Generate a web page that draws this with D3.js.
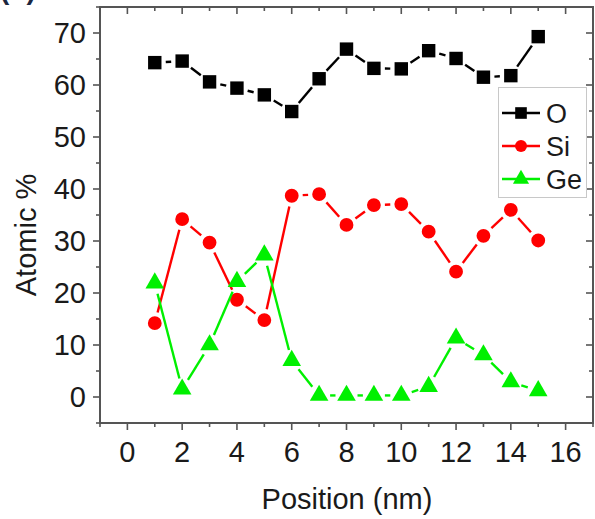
<!DOCTYPE html>
<html>
<head>
<meta charset="utf-8">
<script src="https://cdn.jsdelivr.net/npm/d3@7"></script>
<style>
  body { margin: 0; background: #fff; }
  text { font-family: "Liberation Sans", Arial, sans-serif; fill: #1a1a1a; }
</style>
</head>
<body>
<div id="chart"></div>
<script>
// Data: position (nm) vs atomic %
const positions = [1, 2, 3, 4, 5, 6, 7, 8, 9, 10, 11, 12, 13, 14, 15];
const oxygen = [64.3, 64.6, 60.6, 59.4, 58.1, 54.9, 61.2, 66.9, 63.2, 63.1, 66.6, 65.1, 61.5, 61.8, 69.3];
const silicon = [14.2, 34.2, 29.7, 18.7, 14.8, 38.7, 39.0, 33.1, 36.9, 37.1, 31.8, 24.1, 31.0, 36.0, 30.1];
const germanium = [21.9, 1.5, 10.0, 22.2, 27.3, 7.0, 0.3, 0.3, 0.3, 0.3, 2.0, 11.3, 8.1, 2.9, 1.2];

const xTicks = [0, 2, 4, 6, 8, 10, 12, 14, 16];
const yTicks = [0, 10, 20, 30, 40, 50, 60, 70];

const series = [
  { name: "O", values: oxygen, color: "#000000", symbol: d3.symbolSquare, size: 180 },
  { name: "Si", values: silicon, color: "#ff0000", symbol: d3.symbolCircle, size: 150 },
  { name: "Ge", values: germanium, color: "#00f000", symbol: d3.symbolTriangle, size: 150 }
];

const width = 595, height = 519;
const plot = { left: 100, right: 593, top: 7, bottom: 423 };

const svg = d3.select("#chart").append("svg")
  .attr("width", width)
  .attr("height", height);

const x = d3.scaleLinear().domain([-1, 17]).range([plot.left, plot.right]);
const y = d3.scaleLinear().domain([-5, 75]).range([plot.bottom, plot.top]);

const axisColor = "#555";

// Panel label, mostly cut off at the top edge (as in the source figure)
svg.append("text")
  .attr("x", 0)
  .attr("y", -1)
  .style("font-size", "28px")
  .style("font-weight", "bold")
  .style("fill", "#1b2640")
  .text("(b)");

// Frame
svg.append("rect")
  .attr("x", plot.left)
  .attr("y", plot.top)
  .attr("width", plot.right - plot.left)
  .attr("height", plot.bottom - plot.top)
  .attr("fill", "none")
  .attr("stroke", axisColor)
  .attr("stroke-width", 2);

// Minor and major ticks
const xMinor = d3.range(-1, 18, 1).filter((v) => v % 2 !== 0);
const yMinor = d3.range(-5, 76, 5).filter((v) => v % 10 !== 0);

const ticks = svg.append("g").attr("stroke", axisColor).attr("stroke-width", 1.6);

function xTickLines(vals, len) {
  vals.forEach((v) => {
    // bottom: outward, top: inward
    ticks.append("line").attr("x1", x(v)).attr("x2", x(v)).attr("y1", plot.bottom).attr("y2", plot.bottom + len);
    ticks.append("line").attr("x1", x(v)).attr("x2", x(v)).attr("y1", plot.top).attr("y2", plot.top + len);
  });
}
function yTickLines(vals, len) {
  vals.forEach((v) => {
    // left: outward, right: inward
    ticks.append("line").attr("y1", y(v)).attr("y2", y(v)).attr("x1", plot.left).attr("x2", plot.left - len);
    ticks.append("line").attr("y1", y(v)).attr("y2", y(v)).attr("x1", plot.right).attr("x2", plot.right - len);
  });
}
xTickLines(xTicks, 7);
xTickLines(xMinor, 4);
yTickLines(yTicks, 7);
yTickLines(yMinor, 4);

// Tick labels
svg.append("g").selectAll("text")
  .data(xTicks)
  .enter()
  .append("text")
  .attr("x", (d) => x(d))
  .attr("y", 462)
  .attr("text-anchor", "middle")
  .style("font-size", "29px")
  .text((d) => d);

svg.append("g").selectAll("text")
  .data(yTicks)
  .enter()
  .append("text")
  .attr("x", 86)
  .attr("y", (d) => y(d))
  .attr("dy", "0.36em")
  .attr("text-anchor", "end")
  .style("font-size", "29px")
  .text((d) => d);

// Axis titles
svg.append("text")
  .attr("x", 347)
  .attr("y", 509)
  .attr("text-anchor", "middle")
  .style("font-size", "29px")
  .text("Position (nm)");

svg.append("text")
  .attr("transform", "translate(36,235) rotate(-90)")
  .attr("text-anchor", "middle")
  .style("font-size", "29px")
  .text("Atomic %");

// Lines drawn with a small gap next to each symbol
const gap = 11;
series.forEach((s) => {
  const pts = positions.map((p, i) => [x(p), y(s.values[i])]);
  const g = svg.append("g");
  for (let i = 0; i < pts.length - 1; i++) {
    const [x1, y1] = pts[i], [x2, y2] = pts[i + 1];
    const dx = x2 - x1, dy = y2 - y1;
    const len = Math.hypot(dx, dy);
    if (len <= 2 * gap) continue;
    const ux = dx / len, uy = dy / len;
    g.append("line")
      .attr("x1", x1 + ux * gap)
      .attr("y1", y1 + uy * gap)
      .attr("x2", x2 - ux * gap)
      .attr("y2", y2 - uy * gap)
      .attr("stroke", s.color)
      .attr("stroke-width", 2.4);
  }
  g.selectAll("path")
    .data(pts)
    .enter()
    .append("path")
    .attr("transform", (d) => `translate(${d[0]},${d[1]})`)
    .attr("d", d3.symbol().type(s.symbol).size(s.size))
    .attr("fill", s.color);
});

// Legend
const legend = svg.append("g");
legend.append("rect")
  .attr("x", 498.5)
  .attr("y", 87.5)
  .attr("width", 88)
  .attr("height", 110)
  .attr("fill", "#fff")
  .attr("stroke", "#c8c8c8")
  .attr("stroke-width", 1);

series.forEach((s, i) => {
  const ly = 113 + i * 33;
  legend.append("line")
    .attr("x1", 502)
    .attr("x2", 540)
    .attr("y1", ly)
    .attr("y2", ly)
    .attr("stroke", s.color)
    .attr("stroke-width", 2.4);
  legend.append("path")
    .attr("transform", `translate(521,${ly})`)
    .attr("d", d3.symbol().type(s.symbol).size(s.size * 0.75))
    .attr("fill", s.color);
  legend.append("text")
    .attr("x", 546)
    .attr("y", ly)
    .attr("dy", "0.36em")
    .style("font-size", "27px")
    .text(s.name);
});
</script>
</body>
</html>
